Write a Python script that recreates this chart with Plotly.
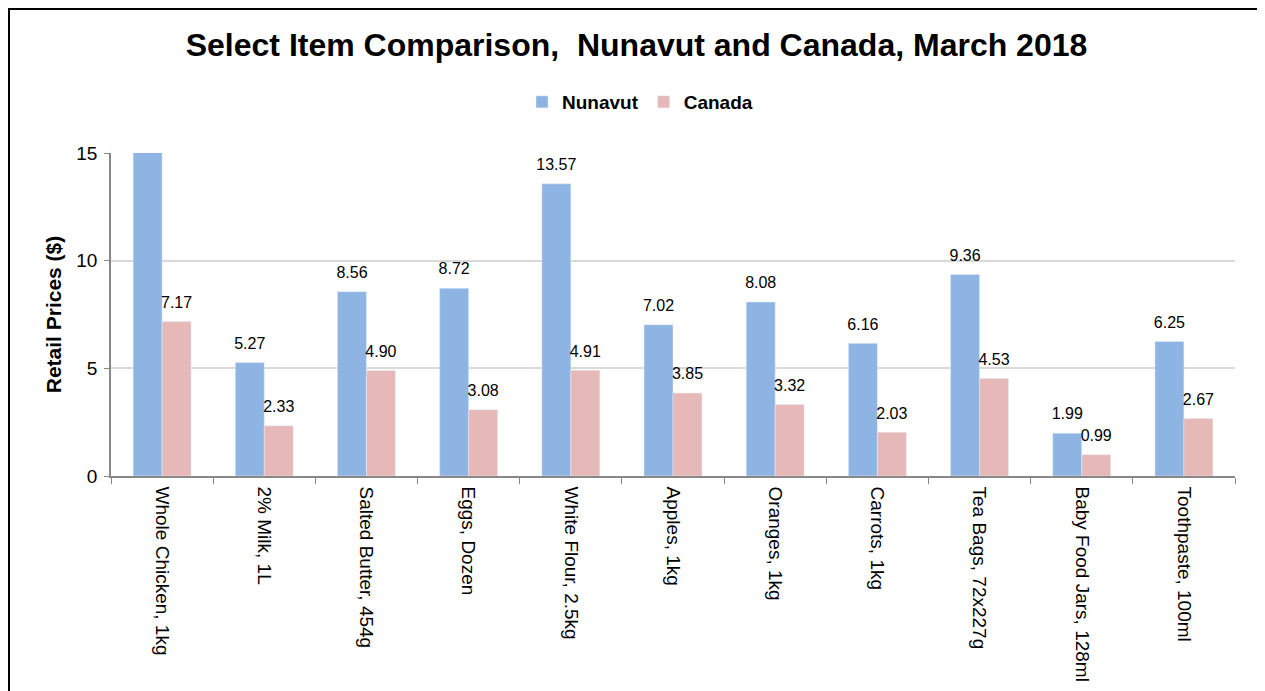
import plotly.graph_objects as go

categories = ["Whole Chicken, 1kg", "2% Milk, 1L", "Salted Butter, 454g", "Eggs, Dozen",
              "White Flour, 2.5kg", "Apples, 1kg", "Oranges, 1kg", "Carrots, 1kg",
              "Tea Bags, 72x227g", "Baby Food Jars, 128ml", "Toothpaste, 100ml"]
# Whole Chicken (Nunavut) is clipped above the axis maximum in the reference; value estimated
nunavut = [15.9, 5.27, 8.56, 8.72, 13.57, 7.02, 8.08, 6.16, 9.36, 1.99, 6.25]
canada = [7.17, 2.33, 4.90, 3.08, 4.91, 3.85, 3.32, 2.03, 4.53, 0.99, 2.67]
y_ticks = [0, 5, 10, 15]
YMAX = 15

def labels(vals):
    return [f"{v:.2f}" if v <= YMAX else "" for v in vals]

FONT = "Liberation Sans, Arial, sans-serif"

# page offset from the default 8px body margin
OFF = 8
W, H = 1257, 683
PL, PR, PT, PB = 111, 1235, 153, 476  # plot area in page pixels
GAP = 0.433

def px(x):
    return (x - PL) / (PR - PL)

def py(y):
    return (PB - y) / (PB - PT)

fig = go.Figure()
series = [("Nunavut", nunavut, "#8EB4E3", "n"), ("Canada", canada, "#E6B9B8", "c")]
for name, vals, col, grp in series:
    fig.add_trace(go.Bar(name=f"<b>{name}</b>", x=categories, y=vals, marker_color=col,
                         offsetgroup=grp, alignmentgroup="a", cliponaxis=True))
for name, vals, col, grp in series:
    fig.add_trace(go.Scatter(x=categories, y=vals, mode="markers+text", text=labels(vals),
                             textposition="top center", offsetgroup=grp, alignmentgroup="a",
                             marker=dict(size=14, opacity=0), showlegend=False,
                             textfont=dict(size=16, color="black"), cliponaxis=True,
                             hoverinfo="skip"))

fig.update_layout(
    width=W, height=H,
    paper_bgcolor="white", plot_bgcolor="white",
    font=dict(family=FONT, color="black"),
    barmode="group", bargap=GAP, bargroupgap=0,
    scattermode="group", scattergap=GAP,
    margin=dict(l=PL - OFF, r=OFF + W - PR, t=PT - OFF, b=OFF + H - PB, autoexpand=False),
    title=dict(text="<b>Select Item Comparison,  Nunavut and Canada, March 2018</b>",
               x=0.5, xanchor="center", y=1 - (45 - OFF) / H, yanchor="middle",
               font=dict(size=32, family=FONT, color="black")),
    legend=dict(orientation="h", x=px(640), xanchor="center", y=py(102), yanchor="middle",
                font=dict(size=19, family=FONT, color="black"),
                traceorder="normal", itemwidth=30),
    showlegend=True,
    shapes=[dict(type="rect", xref="paper", yref="paper",
                 x0=px(9), x1=px(1262), y0=py(720), y1=py(9),
                 line=dict(color="black", width=2), fillcolor="rgba(0,0,0,0)", layer="below")],
)
fig.update_xaxes(tickangle=90, tickfont=dict(size=19), showline=True, linecolor="#888888",
                 linewidth=1.5, ticks="outside", tickson="boundaries", ticklen=6,
                 tickcolor="#888888", showgrid=False, ticklabelstandoff=5)
fig.update_yaxes(range=[0, YMAX], tickvals=y_ticks, tickfont=dict(size=19),
                 showline=True, linecolor="#888888", linewidth=1.5, ticks="outside",
                 ticklen=5, tickcolor="#888888", showgrid=True, gridcolor="#D9D9D9",
                 gridwidth=1.5, zeroline=False, ticklabelstandoff=3,
                 title=dict(text="<b>Retail Prices ($)</b>", font=dict(size=21), standoff=9))

fig.write_html("out.html")
